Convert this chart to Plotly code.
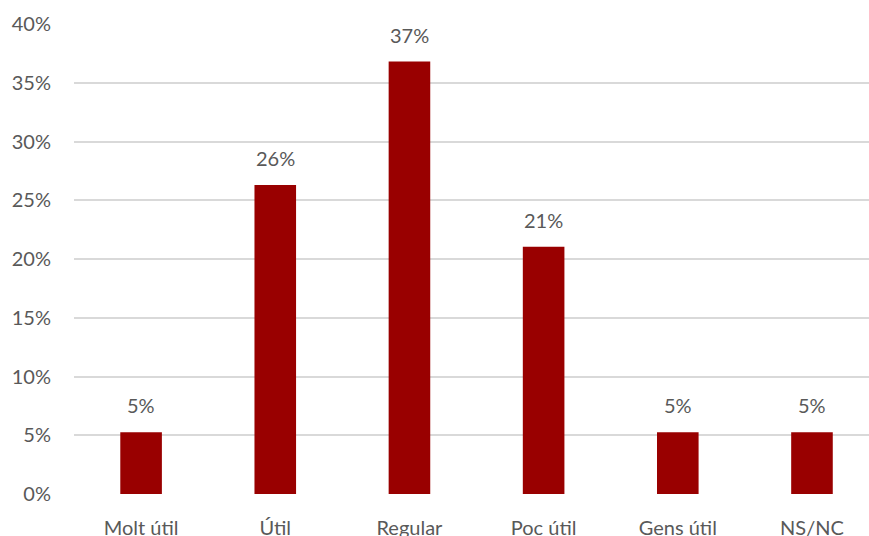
import plotly.graph_objects as go

categories = ["Molt útil", "Útil", "Regular", "Poc útil", "Gens útil", "NS/NC"]
values = [0.0526, 0.263, 0.368, 0.2105, 0.0526, 0.0526]
tick_vals = [0, 0.05, 0.10, 0.15, 0.20, 0.25, 0.30, 0.35, 0.40]
tick_text = ["0%", "5%", "10%", "15%", "20%", "25%", "30%", "35%", "40%"]

FONT = "Lato, 'Open Sans', sans-serif"
TXT = "#595959"

fig = go.Figure()
fig.add_trace(go.Bar(
    x=list(range(len(categories))), y=values,
    marker=dict(color="#990000", line=dict(width=0)),
    width=0.31, hoverinfo="skip",
))
for i, v in enumerate(values):
    fig.add_annotation(x=i, y=v, text=f"{round(v*100):d}%", showarrow=False,
                       yanchor="bottom", yshift=13,
                       font=dict(family=FONT, size=20, color=TXT))

fig.update_layout(
    width=869, height=536,
    margin=dict(l=74, r=0, t=24, b=42),
    plot_bgcolor="white", paper_bgcolor="white",
    showlegend=False,
    font=dict(family=FONT, size=20, color=TXT),
    xaxis=dict(range=[-0.5, 5.425], tickvals=list(range(len(categories))),
               ticktext=categories, showgrid=False, zeroline=False,
               showline=False, ticks="", ticklabelstandoff=20, automargin=False,
               tickfont=dict(family=FONT, size=20, color=TXT)),
    yaxis=dict(range=[0, 0.40], tickvals=tick_vals, ticktext=tick_text,
               showgrid=True, gridcolor="#d9d9d9", gridwidth=1.5,
               zeroline=False, showline=False, ticks="", ticklabelstandoff=22,
               automargin=False,
               tickfont=dict(family=FONT, size=20, color=TXT)),
)
fig.write_html("out.html", config={"displayModeBar": False},
               post_script="document.body.style.margin='0';document.body.style.overflow='hidden';")
